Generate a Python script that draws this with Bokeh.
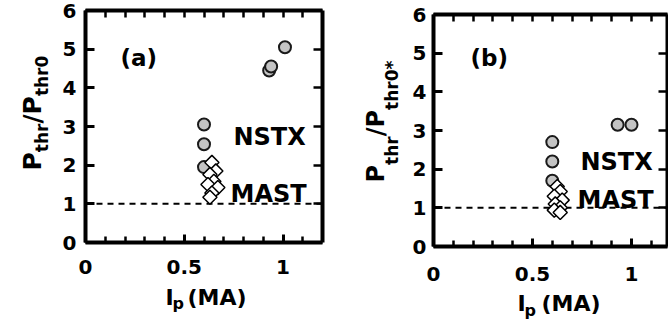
import math
from bokeh.plotting import figure
from bokeh.models import LinearAxis, FixedTicker, Label, Range1d
from bokeh.layouts import row
from bokeh.embed import file_html
from bokeh.resources import INLINE

FONT = "DejaVu Sans"

# ---------------- data ----------------
ip_ticks = [0, 0.5, 1]
ip_tick_labels = ["0", "0.5", "1"]
ip_minor_ticks = [0.1, 0.2, 0.3, 0.4, 0.6, 0.7, 0.8, 0.9, 1.1]
ratio_ticks = [0, 1, 2, 3, 4, 5, 6]
threshold = 1.0

# panel (a): P_thr / P_thr0
nstx_a_ip = [0.60, 0.60, 0.60, 0.93, 0.94, 1.01]
nstx_a_ratio = [3.05, 2.54, 1.95, 4.45, 4.55, 5.05]
mast_a_ip = [0.64, 0.66, 0.63, 0.65, 0.62, 0.67, 0.64, 0.63]
mast_a_ratio = [2.07, 1.85, 1.76, 1.58, 1.50, 1.42, 1.28, 1.17]

# panel (b): P_thr / P_thr0*
nstx_b_ip = [0.60, 0.60, 0.60, 0.93, 1.00]
nstx_b_ratio = [2.70, 2.20, 1.70, 3.15, 3.15]
mast_b_ip = [0.625, 0.64, 0.61, 0.65, 0.615, 0.64, 0.61, 0.64]
mast_b_ratio = [1.55, 1.42, 1.30, 1.20, 1.10, 1.00, 0.94, 0.88]

W, H = 334, 327
BASE_SHIFT = 0.15  # em; compensates where the renderer puts an alphabetic baseline


def make_panel(off_x, x0px, sx, x_max, y0px, sy, y_max,
               nstx_ip, nstx_r, mast_ip, mast_r,
               x_standoff, y_standoff, texts):
    x_range = Range1d(-x0px / sx, (W - x0px) / sx)
    y_range = Range1d(-(H - y0px) / sy, y0px / sy)
    p = figure(width=W, height=H, min_border=0,
               x_range=x_range, y_range=y_range,
               x_axis_type=None, y_axis_type=None,
               output_backend="svg", toolbar_location=None)
    p.grid.visible = False
    p.outline_line_color = None
    p.background_fill_color = "white"
    p.border_fill_color = "white"

    def axis(ticks, minor, tick_in, minor_in, standoff, loc, bounds):
        ax = LinearAxis(ticker=FixedTicker(ticks=ticks, minor_ticks=minor),
                        fixed_location=loc, bounds=bounds)
        ax.axis_line_width = 4
        ax.axis_line_color = "black"
        ax.major_tick_in = tick_in
        ax.major_tick_out = 0
        ax.minor_tick_in = minor_in
        ax.minor_tick_out = 0
        ax.major_tick_line_width = 3
        ax.minor_tick_line_width = 2.5
        ax.major_label_text_font = FONT
        ax.major_label_text_font_style = "bold"
        ax.major_label_text_color = "black"
        ax.major_label_text_font_size = "20px"
        ax.major_label_standoff = standoff
        return ax

    xb = (0, x_max)
    yb = (0, y_max)
    bx = axis(ip_ticks, ip_minor_ticks, 8, 6, x_standoff, 0, xb)
    bx.major_label_overrides = {t: s for t, s in zip(ip_ticks, ip_tick_labels)}
    p.add_layout(bx, "below")
    p.add_layout(axis(ratio_ticks, [], 9, 0, y_standoff, 0, yb), "left")
    # top / right frame: unlabeled, ticks only (drawn as minor ticks)
    p.add_layout(axis([], ip_ticks + ip_minor_ticks, 0, 7, 0, y_max, xb), "above")
    p.add_layout(axis([], ratio_ticks, 0, 9, 0, x_max, yb), "right")

    p.segment(x0=[0], y0=[threshold], x1=[x_max], y1=[threshold],
              line_color="black", line_width=2, line_dash="6 5")

    p.scatter(nstx_ip, nstx_r, marker="circle", size=12, fill_color="#c4c4c4",
              line_color="#1a1a1a", line_width=2)
    p.scatter(mast_ip, mast_r, marker="square", size=10, angle=math.pi / 4,
              fill_color="white", line_color="black", line_width=1.5)

    for (px, py, txt, size, ang) in texts:
        cx = px - off_x
        cy = py
        if ang == 0:
            cy -= BASE_SHIFT * size
        else:
            cx -= BASE_SHIFT * size
        p.add_layout(Label(x=(cx - x0px) / sx, y=(y0px - cy) / sy,
                           text=txt, text_font=FONT, text_font_style="bold",
                           text_font_size=f"{size}px", text_color="black",
                           text_align="left", text_baseline="alphabetic",
                           angle=ang))
    return p


def ylabel_pieces(bx_main, bx_sub, start_py, main, sub, last_sub):
    # rotated label P_thr / P_<last_sub>, built bottom-to-top
    w = {"P": 0.733, "/": 0.365, "t": 0.478, "h": 0.712, "r": 0.493, "0": 0.696, "*": 0.575}
    out = []
    py = start_py
    for txt, size, bxp in [("P", main, bx_main), ("thr", sub, bx_sub), ("/", main, bx_main),
                           ("P", main, bx_main), (last_sub, sub, bx_sub)]:
        out.append((bxp, py, txt, size, math.pi / 2))
        py -= sum(w[c] for c in txt) * size
    return out


texts_a = [
    (120, 61, "(a)", 23, 0),
    (233, 140, "NSTX", 24, 0),
    (230, 197, "MAST", 24, 0),
    (165, 300, "I", 22, 0),
    (172, 305, "p", 16, 0),
    (187, 300, "(MA)", 22, 0),
] + ylabel_pieces(36, 44, 170, 25, 17, "thr0")

texts_b = [
    (470, 61, "(b)", 23, 0),
    (580, 165, "NSTX", 24, 0),
    (577, 203, "MAST", 24, 0),
    (517, 306, "I", 22, 0),
    (524, 312, "p", 16, 0),
    (541, 306, "(MA)", 22, 0),
] + ylabel_pieces(379, 394, 182, 24, 17, "thr0*")

pa = make_panel(0, 85, 197.5, 1.2, 242, 232 / 6, 6,
                nstx_a_ip, nstx_a_ratio, mast_a_ip, mast_a_ratio, 17, 9, texts_a)
pb = make_panel(334, 99, 198, 1.18, 246, 232 / 6, 6,
                nstx_b_ip, nstx_b_ratio, mast_b_ip, mast_b_ratio, 20, 7, texts_b)

layout = row(pa, pb)
open("out.html", "w").write(file_html(layout, INLINE))
